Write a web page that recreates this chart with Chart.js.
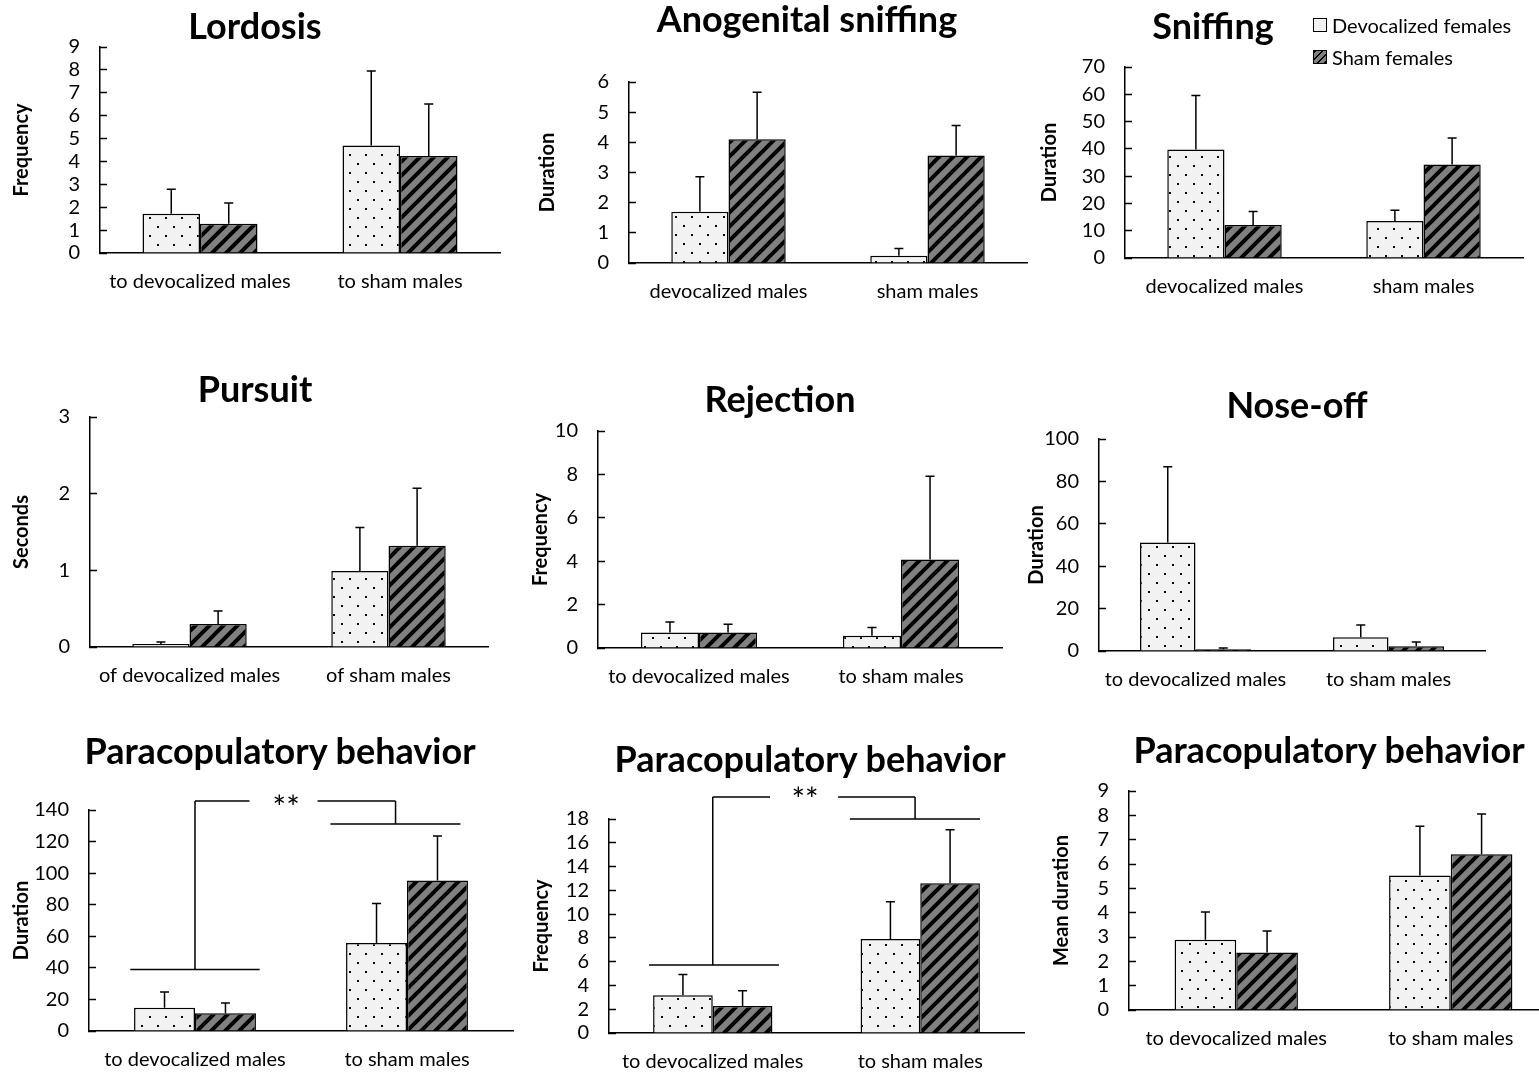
<!DOCTYPE html>
<html>
<head>
<meta charset="utf-8">
<script src="https://cdn.jsdelivr.net/npm/chart.js@4.4.0/dist/chart.umd.min.js"></script>
<style>
  html, body { margin: 0; padding: 0; background: #fff; overflow: hidden; width: 1539px; height: 1072px; }
  canvas { position: absolute; }
  .titulo { position: absolute; width: 600px; text-align: center; font: bold 36px Lato; line-height: 36px; color: #000; white-space: nowrap; }
  .leyenda { position: absolute; left: 1313px; height: 20px; display: flex; align-items: center; font: 20px Lato; color: #000; white-space: nowrap; }
  .caja { width: 14px; height: 14px; border: 1px solid #000; margin-right: 5px; box-sizing: border-box; }
  .caja.devo { background: #f2f2f2; }
  .caja.sham { background: repeating-linear-gradient(135deg, #000 0 2px, #808080 2px 5px); }
</style>
</head>
<body>
<script>
// #############
//       Datos
// #############
const seriesNames = ['Devocalized females', 'Sham females'];
const catTo = ['to devocalized males', 'to sham males'];
const catPlain = ['devocalized males', 'sham males'];
const catOf = ['of devocalized males', 'of sham males'];

// Lordosis
const lordosisDevo = [1.72, 4.70];
const lordosisSham = [1.28, 4.24];
const lordosisDevoErr = [1.06, 3.25];
const lordosisShamErr = [0.90, 2.27];

// Anogenital sniffing
const anogenitalDevo = [1.70, 0.24];
const anogenitalSham = [4.10, 3.56];
const anogenitalDevoErr = [1.16, 0.24];
const anogenitalShamErr = [1.56, 1.00];

// Sniffing
const sniffingDevo = [39.8, 13.6];
const sniffingSham = [12.1, 34.3];
const sniffingDevoErr = [19.8, 3.9];
const sniffingShamErr = [4.9, 9.7];

// Pursuit
const pursuitDevo = [0.04, 0.99];
const pursuitSham = [0.30, 1.32];
const pursuitDevoErr = [0.025, 0.57];
const pursuitShamErr = [0.17, 0.75];

// Rejection
const rejectionDevo = [0.71, 0.57];
const rejectionSham = [0.72, 4.08];
const rejectionDevoErr = [0.49, 0.37];
const rejectionShamErr = [0.37, 3.84];

// Nose-off
const noseOffDevo = [51.2, 6.5];
const noseOffSham = [0.8, 2.2];
const noseOffDevoErr = [35.7, 5.8];
const noseOffShamErr = [0.6, 2.1];

// Paracopulatory behavior - duration
const paraDurDevo = [14.8, 55.8];
const paraDurSham = [11.2, 95.4];
const paraDurDevoErr = [9.9, 24.9];
const paraDurShamErr = [6.6, 28.1];

// Paracopulatory behavior - frequency
const paraFreqDevo = [3.17, 7.9];
const paraFreqSham = [2.27, 12.6];
const paraFreqDevoErr = [1.76, 3.15];
const paraFreqShamErr = [1.29, 4.5];

// Paracopulatory behavior - mean duration
const paraMeanDevo = [2.89, 5.53];
const paraMeanSham = [2.36, 6.40];
const paraMeanDevoErr = [1.14, 2.02];
const paraMeanShamErr = [0.89, 1.65];

// llaves de significancia: [idx1, valor1, idx2, valor2] en unidades de categoria / eje y
const paraDurBrackets = [[-0.305, 39, 0.305, 39], [0, 39, 0, 145.7], [0, 145.7, 0.257, 145.7],
  [0.578, 145.7, 0.946, 145.7], [0.946, 145.7, 0.946, 131.1], [0.639, 131.1, 1.252, 131.1]];
const paraDurStars = [0.43, 145.7, '**'];
const paraFreqBrackets = [[-0.307, 5.72, 0.319, 5.72], [0, 5.72, 0, 19.85], [0, 19.85, 0.276, 19.85],
  [0.604, 19.85, 0.975, 19.85], [0.975, 19.85, 0.975, 18], [0.661, 18, 1.288, 18]];
const paraFreqStars = [0.445, 20.2, '**'];

// #############
//    Patrones
// #############
function patronPuntos() {
  const c = document.createElement('canvas');
  c.width = 16; c.height = 18;
  const g = c.getContext('2d');
  g.fillStyle = '#f2f2f2'; g.fillRect(0, 0, 16, 18);
  g.fillStyle = '#000';
  g.fillRect(3, 3, 2, 2);
  g.fillRect(11, 12, 2, 2);
  return g.createPattern(c, 'repeat');
}
function patronRayas() {
  const s = 14;
  const c = document.createElement('canvas');
  c.width = s; c.height = s;
  const g = c.getContext('2d');
  g.fillStyle = '#808080'; g.fillRect(0, 0, s, s);
  g.strokeStyle = '#000'; g.lineWidth = 4;
  g.beginPath();
  g.moveTo(-s, s); g.lineTo(s, -s);
  g.moveTo(0, s); g.lineTo(s, 0);
  g.moveTo(0, 2 * s); g.lineTo(2 * s, 0);
  g.stroke();
  return g.createPattern(c, 'repeat');
}
const dotPattern = patronPuntos();
const hatchPattern = patronRayas();

// #############
//    Plugins
// #############
const errorBars = {
  id: 'errorBars',
  afterDatasetsDraw(chart) {
    const ctx = chart.ctx;
    const y = chart.scales.y;
    ctx.save();
    ctx.strokeStyle = '#000';
    ctx.lineWidth = 1.5;
    chart.data.datasets.forEach((ds, i) => {
      chart.getDatasetMeta(i).data.forEach((bar, j) => {
        const top = y.getPixelForValue(ds.data[j] + ds.errors[j]);
        ctx.beginPath();
        ctx.moveTo(bar.x, bar.y);
        ctx.lineTo(bar.x, top);
        ctx.moveTo(bar.x - 4.5, top);
        ctx.lineTo(bar.x + 4.5, top);
        ctx.stroke();
      });
    });
    ctx.restore();
  }
};

const sigBrackets = {
  id: 'sigBrackets',
  afterDraw(chart, args, opts) {
    if (!opts.segs) return;
    const {ctx, scales: {x, y}} = chart;
    const x0 = x.getPixelForValue(0), x1 = x.getPixelForValue(1);
    const px = v => x0 + v * (x1 - x0);
    ctx.save();
    ctx.strokeStyle = '#000';
    ctx.lineWidth = 1.5;
    ctx.beginPath();
    opts.segs.forEach(s => {
      ctx.moveTo(px(s[0]), y.getPixelForValue(s[1]));
      ctx.lineTo(px(s[2]), y.getPixelForValue(s[3]));
    });
    ctx.stroke();
    ctx.font = '32px Lato';
    ctx.textAlign = 'center';
    ctx.textBaseline = 'middle';
    ctx.fillStyle = '#000';
    ctx.fillText(opts.stars[2], px(opts.stars[0]), y.getPixelForValue(opts.stars[1]) + 8);
    ctx.restore();
  }
};

Chart.defaults.font.family = 'Lato';
Chart.defaults.color = '#000';

// #############
//    Graficos
// #############
const paneles = [
  { title: 'Lordosis', tx: 255, ty: 26, labels: catTo, devo: lordosisDevo, sham: lordosisSham, devoErr: lordosisDevoErr, shamErr: lordosisShamErr,
    yTitle: 'Frequency', max: 9, step: 1, L: 100, T: 47, R: 500, B: 253, yTitleX: 22 },
  { title: 'Anogenital sniffing', tx: 807, ty: 19, labels: catPlain, devo: anogenitalDevo, sham: anogenitalSham, devoErr: anogenitalDevoErr, shamErr: anogenitalShamErr,
    yTitle: 'Duration', max: 6, step: 1, L: 629, T: 82, R: 1027, B: 263, yTitleX: 548 },
  { title: 'Sniffing', tx: 1213, ty: 26, labels: catPlain, devo: sniffingDevo, sham: sniffingSham, devoErr: sniffingDevoErr, shamErr: sniffingShamErr,
    yTitle: 'Duration', max: 70, step: 10, L: 1125, T: 67, R: 1523, B: 258, yTitleX: 1050 },
  { title: 'Pursuit', tx: 255, ty: 389, labels: catOf, devo: pursuitDevo, sham: pursuitSham, devoErr: pursuitDevoErr, shamErr: pursuitShamErr,
    yTitle: 'Seconds', max: 3, step: 1, L: 90, T: 417, R: 488, B: 647, yTitleX: 22 },
  { title: 'Rejection', tx: 780, ty: 399, labels: catTo, devo: rejectionDevo, sham: rejectionSham, devoErr: rejectionDevoErr, shamErr: rejectionShamErr,
    yTitle: 'Frequency', max: 10, step: 2, L: 598, T: 431, R: 1002, B: 648, yTitleX: 541 },
  { title: 'Nose-off', tx: 1297, ty: 405, labels: catTo, devo: noseOffDevo, sham: noseOffSham, devoErr: noseOffDevoErr, shamErr: noseOffShamErr,
    yTitle: 'Duration', max: 100, step: 20, L: 1099, T: 439, R: 1485, B: 651, yTitleX: 1037 },
  { title: 'Paracopulatory behavior', tx: 280, ty: 751, labels: catTo, devo: paraDurDevo, sham: paraDurSham, devoErr: paraDurDevoErr, shamErr: paraDurShamErr,
    yTitle: 'Duration', max: 140, step: 20, L: 89, T: 810, R: 513, B: 1031, yTitleX: 22, brackets: paraDurBrackets, stars: paraDurStars },
  { title: 'Paracopulatory behavior', tx: 810, ty: 759, labels: catTo, devo: paraFreqDevo, sham: paraFreqSham, devoErr: paraFreqDevoErr, shamErr: paraFreqShamErr,
    yTitle: 'Frequency', max: 18, step: 2, L: 609, T: 819, R: 1024, B: 1033, yTitleX: 542, brackets: paraFreqBrackets, stars: paraFreqStars },
  { title: 'Paracopulatory behavior', tx: 1329, ty: 750, labels: catTo, devo: paraMeanDevo, sham: paraMeanSham, devoErr: paraMeanDevoErr, shamErr: paraMeanShamErr,
    yTitle: 'Mean duration', max: 9, step: 1, L: 1129, T: 791, R: 1558, B: 1010, yTitleX: 1062 }
];

function crearGrafico(p) {
  const padTop = 40;
  const left = p.yTitleX - 12;
  const top = p.T - padTop;
  const w = p.R - left + 4;
  const h = p.B - top + 50;
  const cv = document.createElement('canvas');
  cv.width = w; cv.height = h;
  cv.style.left = left + 'px'; cv.style.top = top + 'px';
  cv.style.width = w + 'px'; cv.style.height = h + 'px';
  document.body.appendChild(cv);
  const yAxisW = p.L - left;

  const titulo = document.createElement('div');
  titulo.className = 'titulo';
  titulo.textContent = p.title;
  titulo.style.left = (p.tx - 300) + 'px';
  titulo.style.top = (p.ty - 19) + 'px';
  document.body.appendChild(titulo);

  const barra = { borderColor: '#000', borderWidth: 1.5, borderSkipped: 'start', categoryPercentage: 0.575, barPercentage: 1 };
  new Chart(cv.getContext('2d'), {
    type: 'bar',
    data: {
      labels: p.labels,
      datasets: [
        Object.assign({ label: seriesNames[0], data: p.devo, errors: p.devoErr, backgroundColor: dotPattern }, barra),
        Object.assign({ label: seriesNames[1], data: p.sham, errors: p.shamErr, backgroundColor: hatchPattern }, barra)
      ]
    },
    options: {
      responsive: false,
      animation: false,
      devicePixelRatio: 1,
      layout: { padding: { top: padTop, right: 4, left: 0, bottom: 0 } },
      plugins: {
        legend: { display: false },
        tooltip: { enabled: false },
        sigBrackets: p.brackets ? { segs: p.brackets, stars: p.stars } : false
      },
      scales: {
        x: {
          grid: { display: false },
          border: { color: '#000', width: 1.5 },
          ticks: { color: '#000', font: { size: 20 }, padding: 9, maxRotation: 0, autoSkip: false },
          afterFit: s => { s.height = 50; s.paddingLeft = 0; s.paddingRight = 0; }
        },
        y: {
          min: 0, max: p.max,
          ticks: { stepSize: p.step, color: '#000', font: { size: 20 }, padding: 27, autoSkip: false },
          grid: { drawOnChartArea: false, drawTicks: true, tickLength: -7, color: '#000', tickWidth: 1.5 },
          border: { color: '#000', width: 1.5 },
          title: { display: true, text: p.yTitle, color: '#000', font: { size: 20, weight: 'bold' }, padding: 0 },
          afterFit: s => { s.width = yAxisW; s.paddingTop = 0; s.paddingBottom = 0; }
        }
      }
    },
    plugins: [errorBars, sigBrackets]
  });
}

paneles.forEach(crearGrafico);

// leyenda
[['devo', 15], ['sham', 47]].forEach((item, i) => {
  const d = document.createElement('div');
  d.className = 'leyenda';
  d.style.top = item[1] + 'px';
  d.innerHTML = '<span class="caja ' + item[0] + '"></span>' + seriesNames[i];
  document.body.appendChild(d);
});
</script>
</body>
</html>
